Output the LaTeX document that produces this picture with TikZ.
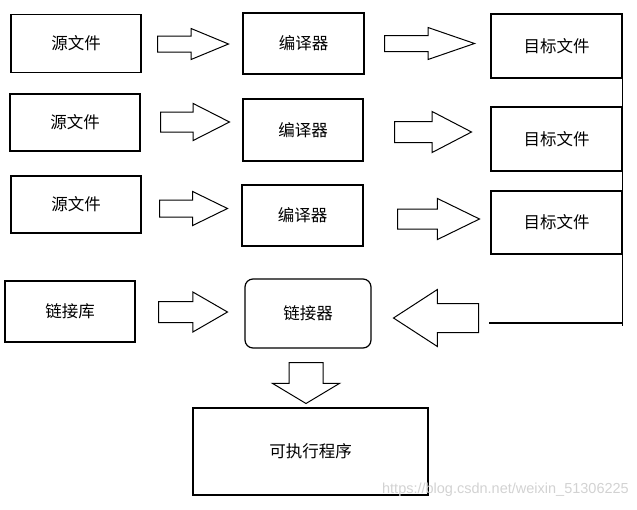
\documentclass[tikz,border=0pt]{standalone}
\usepackage{fontspec}
\newfontfamily\cjk{Noto Sans CJK SC}
\newfontfamily\wmfont{Liberation Sans}
\usetikzlibrary{shapes.arrows}

\begin{document}
\begin{tikzpicture}[
  x=1pt, y=-1pt,
  box/.style={rectangle, draw, line width=1.2pt, inner sep=0pt, font=\cjk\fontsize{16.5}{18}\selectfont},
  blk/.style={single arrow, draw, line width=1pt, inner xsep=0pt, anchor=tail},
]
\useasboundingbox (0,0) rectangle (637,509);

% Sources
\node[box, minimum width=130pt, minimum height=58pt] (src1) at (76,43.5) {源文件};
\node[box, minimum width=130pt, minimum height=57pt] (src2) at (75,122.5) {源文件};
\node[box, minimum width=130pt, minimum height=57pt] (src3) at (76,204.5) {源文件};
\node[box, minimum width=130pt, minimum height=61pt] (lib) at (70,311.5) {链接库};

% Compilers
\node[box, minimum width=121pt, minimum height=61pt] (cc1) at (303.5,43.5) {编译器};
\node[box, minimum width=120pt, minimum height=62pt] (cc2) at (303,130) {编译器};
\node[box, minimum width=121pt, minimum height=61pt] (cc3) at (302.5,215.5) {编译器};
\node[box, rounded corners=8pt, minimum width=126pt, minimum height=69pt] (ld) at (308,313.5) {链接器};

% Object files
\node[box, minimum width=131pt, minimum height=64pt] (obj1) at (556.5,46) {目标文件};
\node[box, minimum width=131pt, minimum height=64pt] (obj2) at (556.5,139) {目标文件};
\node[box, minimum width=131pt, minimum height=63pt] (obj3) at (556.5,222.5) {目标文件};

% Executable
\node[box, minimum width=235pt, minimum height=87pt] (exe) at (310.5,451.5) {可执行程序};

% Block arrows
\node[blk, minimum height=71pt, inner ysep=7.5pt, single arrow head extend=7.5pt, single arrow tip angle=45] (a1) at (157,44) {};
\node[blk, minimum height=90pt, inner ysep=7.5pt, single arrow head extend=8pt, single arrow tip angle=38] (a2) at (384,43.5) {};
\node[blk, minimum height=69pt, inner ysep=9.5pt, single arrow head extend=8.5pt, single arrow tip angle=54] (a3) at (160,122) {};
\node[blk, minimum height=77pt, inner ysep=10pt, single arrow head extend=10pt, single arrow tip angle=55] (a4) at (394,132) {};
\node[blk, minimum height=68pt, inner ysep=8pt, single arrow head extend=8.5pt, single arrow tip angle=52] (a5) at (159,208.5) {};
\node[blk, minimum height=82pt, inner ysep=9.5pt, single arrow head extend=10.5pt, single arrow tip angle=52] (a6) at (397,219) {};
\node[blk, minimum height=69pt, inner ysep=10pt, single arrow head extend=9.5pt, single arrow tip angle=60] (a7) at (158,312) {};
\node[blk, shape border rotate=180, minimum height=85pt, inner ysep=14pt, single arrow head extend=14pt, single arrow tip angle=66] (a8) at (479,318) {};
\node[blk, shape border rotate=270, minimum height=41pt, inner xsep=16.5pt, inner ysep=0pt, single arrow head extend=16.5pt, single arrow tip angle=118] (a9) at (306,362) {};

% Collecting line from the object files
\coordinate (gather) at (489,323);
\draw[line width=1.2pt] (obj1.north east) -- ([yshift=-3pt]obj1.north east |- gather) (obj1.north east |- gather) -- (gather);

% Watermark
\node[text=gray!35, font=\wmfont\fontsize{14.5}{16}\selectfont, anchor=east, inner sep=0pt] (wm) at (629,490) {https://blog.csdn.net/weixin\_51306225};
\end{tikzpicture}
\end{document}
